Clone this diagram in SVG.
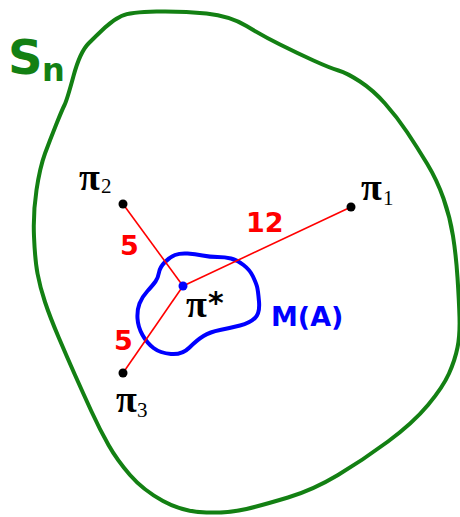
<svg xmlns="http://www.w3.org/2000/svg" width="460" height="517" viewBox="0 0 460 517">
<style>
.lbl{font-family:"DejaVu Sans",sans-serif;font-weight:bold}
.pi{font-family:"Liberation Serif",serif;font-weight:bold;font-size:38px;fill:#000}
.sub{font-family:"Liberation Serif",serif;font-size:21px;fill:#000}
.edge{stroke:#ff0000;stroke-width:1.6;fill:none}
</style>
<rect width="460" height="517" fill="#fff"/>
<g id="Sn">
<path d="M121.5,16 Q130,12 156.5,11.5 Q183,11 206.5,13.5 Q230,16 246.5,26 Q263,36 280,44.5 Q297,53 313.5,60.5 Q330,68 338.5,70.5 Q347,73 360,81.5 Q373,90 385,103.5 Q397,117 407,132 Q417,147 427,163.5 Q437,180 443.5,198.5 Q450,217 453,236 Q456,255 457.5,277.5 Q459,300 459.5,317.5 Q460,335 457.5,347.5 Q455,360 449,373.5 Q443,387 428,405 Q413,423 388,441.5 Q363,460 338,475 Q313,490 288,497.5 Q263,505 246.5,509 Q230,513 206.5,512.5 Q183,512 163,501 Q143,490 130,475 Q117,460 108.5,445 Q100,430 91.5,411.5 Q83,393 75,375 Q67,357 58.5,337 Q50,317 45,302 Q40,287 37.5,273.5 Q35,260 34,236.5 Q33,213 36.5,190 Q40,167 45,153.5 Q50,140 56,125 Q62,110 64.5,105 Q67,100 73.5,76 Q80,52 88.5,43.5 Q97,35 105,27.5 Q113,20 121.5,16 Z" fill="none" stroke="#138013" stroke-width="4" stroke-linejoin="round"/>
<text class="lbl" x="8" y="74" font-size="48" fill="#138013">S</text>
<text class="lbl" x="42" y="81" font-size="32" fill="#138013">n</text>
</g>
<g id="MA">
<path d="M165,262 Q170,257 175,255 Q180,253 187.5,253.5 Q195,254 202.5,255.5 Q210,257 217.5,257 Q225,257 231,258.5 Q237,260 243.5,265 Q250,270 253,276.5 Q256,283 257,286.5 Q258,290 259,301.5 Q260,313 255,318 Q250,323 240,325.5 Q230,328 220,330 Q210,332 203.5,336 Q197,340 189.5,347.5 Q182,355 171,354 Q160,353 153.5,348 Q147,343 142.5,335 Q138,327 137.5,318.5 Q137,310 139.5,303.5 Q142,297 147.5,291 Q153,285 155.5,281.5 Q158,278 159,272.5 Q160,267 165,262 Z" fill="none" stroke="#0000ff" stroke-width="4" stroke-linejoin="round"/>
<text class="lbl" x="271" y="326" font-size="27" fill="#0000ff">M(A)</text>
</g>
<g id="connectors">
<line class="edge" x1="183" y1="286" x2="351" y2="207"/>
<line class="edge" x1="183" y1="286" x2="123" y2="204"/>
<line class="edge" x1="183" y1="286" x2="123" y2="373"/>
<text class="lbl" x="246" y="232" font-size="27" fill="#ff0000">12</text>
<text class="lbl" x="120" y="255" font-size="27" fill="#ff0000">5</text>
<text class="lbl" x="114" y="350" font-size="27" fill="#ff0000">5</text>
</g>
<g id="pistar">
<circle cx="183" cy="286" r="4.5" fill="#0000ff"/>
<text class="pi" x="186" y="317">π</text>
<text class="lbl" x="208" y="313" font-size="30" fill="#000">*</text>
</g>
<g id="pi1">
<circle cx="351" cy="207" r="4.5" fill="#000"/>
<text class="pi" x="361" y="200">π</text>
<text class="sub" x="383" y="205">1</text>
</g>
<g id="pi2">
<circle cx="123" cy="204" r="4.5" fill="#000"/>
<text class="pi" x="79" y="190">π</text>
<text class="sub" x="101" y="193">2</text>
</g>
<g id="pi3">
<circle cx="123" cy="373" r="4.5" fill="#000"/>
<text class="pi" x="116" y="412">π</text>
<text class="sub" x="137" y="417">3</text>
</g>
</svg>
